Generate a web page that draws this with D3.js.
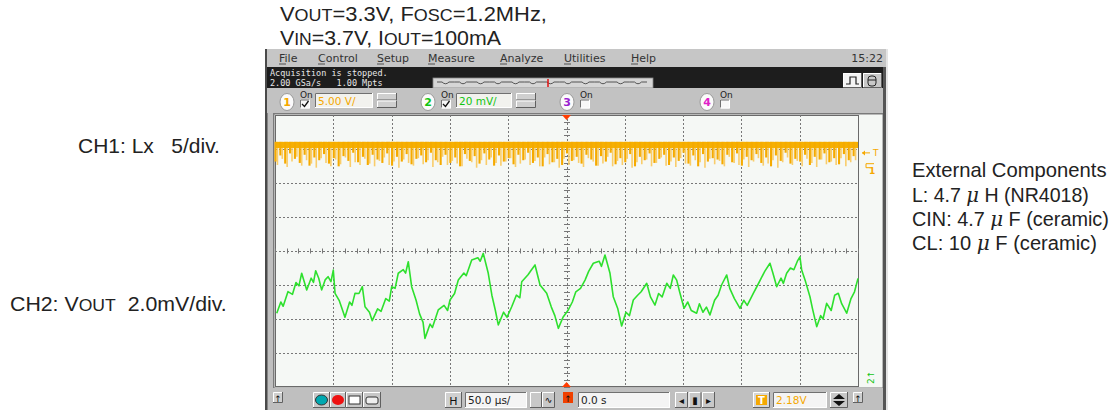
<!DOCTYPE html>
<html>
<head>
<meta charset="utf-8">
<script src="https://cdn.jsdelivr.net/npm/d3@7"></script>
<style>
  body { margin: 0; background: #fff; }
  svg text { font-family: "Liberation Sans", Arial, sans-serif; }
  .ui { font-family: "DejaVu Sans", sans-serif; }
  .mono { font-family: "DejaVu Sans Mono", monospace; }
</style>
</head>
<body>
<svg id="chart" width="1117" height="410"></svg>
<script>
// ---- data read off the scope shot ----
// time axis: 50us/div, 10 div, trigger in the middle
const timeTicks = [-250, -200, -150, -100, -50, 0, 50, 100, 150, 200, 250];
const divTicks = [-4, -3, -2, -1, 0, 1, 2, 3, 4];

// CH2 Vout ripple (2.0mV/div, 0 = screen centre)
const ch2Time = [-248.5, -245, -243, -238.9, -235, -232, -229.5, -227.1, -222.8, -219,
  -217, -215.1, -212.5, -210, -207, -204.5, -202, -200, -198.5, -195,
  -193, -190, -186, -184, -181.4, -178, -175.1, -172.8, -169, -166.6,
  -162, -159, -155, -152, -149.9, -147, -144.3, -140, -138, -135.7,
  -132.8, -129, -126, -123, -121.4, -117, -115, -110, -105, -102,
  -99.9, -96, -92.8, -88, -86, -81.3, -76, -74, -71.4, -67.1,
  -64, -61, -58.5, -54, -51, -47, -43, -40, -38.4, -33,
  -30, -27, -22.7, -17, -13, -10, -7, -3, 1.5, 5,
  8, 12, 15.9, 19, 23, 28, 30, 33, 37.3, 40.1,
  44, 47.3, 51, 54, 57.3, 61, 64, 68.8, 72, 75.9,
  79, 82, 86, 89, 91.6, 94.5, 97, 100.8, 104, 107,
  111.6, 114, 117, 120, 123, 127, 130, 133, 137.4, 140,
  144, 148.8, 152, 155, 160.2, 164, 167, 170, 174.5, 177,
  180.3, 184, 186, 188.8, 192, 195, 198, 200.2, 201.7, 205,
  208.8, 211, 214.6, 218, 220, 223.1, 227, 230, 233.1, 236,
  240.3, 244, 247, 250];
const ch2Mv = [-3.66, -3.0, -3.25, -2.39, -2.55, -1.85, -2.05, -1.31, -2.29, -1.6,
  -1.85, -1.16, -1.6, -2.29, -1.7, -1.51, -1.8, -1.12, -2.49, -2.9,
  -3.3, -3.90, -3.0, -3.2, -2.49, -2.5, -2.10, -3.28, -3.6, -4.10,
  -3.4, -3.55, -2.8, -2.95, -2.10, -2.2, -1.31, -1.1, -1.3, -0.63,
  -2.10, -2.9, -3.7, -4.2, -5.14, -4.3, -4.5, -3.47, -3.2, -3.5,
  -2.88, -2.5, -1.71, -1.3, -1.45, -0.53, -0.4, -0.6, -0.14, -1.31,
  -2.6, -3.5, -4.35, -3.6, -3.9, -3.28, -2.6, -2.75, -1.81, -1.4,
  -1.1, -0.82, -2.00, -2.49, -3.3, -3.8, -4.55, -3.9, -3.47, -3.0,
  -2.4, -2.2, -1.71, -1.2, -0.72, -0.6, -0.9, -0.24, -1.31, -2.69,
  -3.4, -4.41, -3.6, -3.8, -2.88, -2.6, -2.4, -1.90, -2.7, -3.18,
  -2.5, -2.7, -1.9, -2.2, -1.41, -1.71, -2.4, -3.37, -3.0, -3.5,
  -3.66, -3.1, -3.6, -3.3, -3.76, -2.9, -2.6, -2.0, -1.41, -2.2,
  -2.8, -3.37, -2.9, -3.2, -2.49, -2.0, -1.6, -1.2, -0.72, -1.3,
  -2.10, -1.6, -1.9, -1.31, -1.0, -1.1, -0.6, -0.34, -1.12, -1.8,
  -2.69, -3.4, -4.45, -3.8, -4.0, -3.08, -3.5, -2.6, -2.49, -3.1,
  -3.66, -2.8, -2.4, -1.61];

// CH1 Lx (5V/div): high level and the bottoms of the (aliased) switching spikes, in V
const ch1High = 3.8;
const ch1Band = 2.9;
const ch1Dark = [0.9, 1.8, 0.6, 2.1, 1.3, 0.7, 1.9, 0.3, 1.5, 1.1,
  2.0, 0.6, 1.4, 0.2, 1.7, 1.0, 2.2, 0.8, 1.6, 0.4,
  1.9, 1.2, 0.7, 2.1, 0.3, 1.6, 0.9, 2.0, 0.5, 1.3,
  1.8, 0.8, 2.2, 1.1, 0.4, 1.9, 0.7, 1.5, 0.2, 2.0,
  1.0, 1.7, 0.6, 2.1, 1.2, 0.3, 1.8, 0.9, 1.4, 0.5,
  1.9, 1.1, 2.2, 0.7, 1.5, 0.2, 2.0, 0.8, 1.3, 0.4,
  2.1, 1.0, 1.6, 0.6, 1.9, 1.2, 0.3, 1.7, 0.9, 2.2,
  0.5, 1.4, 0.8, 2.0, 0.2, 1.6, 1.1, 2.1, 0.7, 1.3,
  1.9, 0.4, 1.5, 1.0, 2.2, 0.6, 1.8, 0.2, 2.0, 0.9,
  1.4, 1.2, 0.5, 1.9, 0.8, 2.1, 0.3, 1.6, 1.1, 2.0,
  0.7, 1.5, 0.2, 1.8, 1.0, 2.2, 0.6, 1.3, 0.9, 1.9,
  0.4, 1.6, 1.2, 2.1, 0.8, 1.4, 0.5, 2.0, 1.1, 1.7];
const ch1Light = [0.4, 1.3, 0.1, 0.9, 1.6, 0.3, 1.1, 0.6, 0.0, 1.4,
  0.7, 0.2, 1.2, 0.5, 1.5, 0.1, 0.8, 0.4, 1.3, 0.6,
  0.2, 1.0, 1.5, 0.4, 0.9, 0.0, 1.2, 0.7, 0.3, 1.4,
  0.5, 1.1, 0.1, 0.8, 1.6, 0.4, 1.0, 0.6, 0.2, 1.3,
  0.8, 0.0, 1.1, 0.4, 1.5, 0.7, 0.3, 0.9, 1.4, 0.1,
  0.6, 1.2, 0.4, 1.0, 0.2, 1.5, 0.5, 0.8, 0.0, 1.3,
  0.4, 1.1, 0.7, 0.1, 1.4, 0.9, 0.3, 0.6, 1.6, 0.2,
  1.0, 0.4, 1.3, 0.0, 0.8, 0.5, 1.2, 0.2, 0.7, 1.5,
  0.3, 0.9, 0.1, 1.4, 0.6, 0.3, 1.1, 0.8, 0.0, 1.3,
  0.5, 1.0, 0.2, 1.6, 0.7, 0.4, 1.2, 0.1, 0.9, 1.4,
  0.3, 0.6, 1.1, 0.0, 0.8, 1.5, 0.4, 1.0, 0.2, 1.3,
  0.7, 0.1, 1.2, 0.5, 0.9, 0.4, 1.4, 0.2, 0.8, 1.1];

const menuItems = ["File", "Control", "Setup", "Measure", "Analyze", "Utilities", "Help"];
const menuX = [279, 318, 377, 428, 500, 564, 631];
const channels = ["1", "2", "3", "4"];
const chColors = ["#f5a800", "#12c412", "#9a1fd0", "#e020c8"];
const chScaleText = ["5.00 V/", "20 mV/", null, null];

// ---- setup ----
const svg = d3.select("#chart");

const x = d3.scaleLinear().domain([-250, 250]).range([275, 858]);
const yDiv = d3.scaleLinear().domain([-4, 4]).range([387, 115]);
// CH2: 2.0mV/div, centred
const y2 = d3.scaleLinear().domain([-8, 8]).range([387, 115]);
// CH1: 5V/div, ground marker 2.45 div above centre
const y1 = d3.scaleLinear().domain([-5 * 6.45, 5 * 1.55]).range([387, 115]);

function bevel(g, bx, by, w, h, fill, sunken) {
  g.append("rect").attr("x", bx).attr("y", by).attr("width", w).attr("height", h).attr("fill", fill);
  const lt = sunken ? "#707070" : "#ffffff", rb = sunken ? "#ffffff" : "#606060";
  g.append("path").attr("d", `M${bx + 0.5},${by + h}V${by + 0.5}H${bx + w}`).attr("stroke", lt).attr("fill", "none");
  g.append("path").attr("d", `M${bx + w - 0.5},${by}V${by + h - 0.5}H${bx}`).attr("stroke", rb).attr("fill", "none");
}

// ---- scope window frame ----
const win = svg.append("g");
win.append("rect").attr("x", 265).attr("y", 49).attr("width", 623).attr("height", 361).attr("fill", "#bfbfbf");
win.append("rect").attr("x", 265).attr("y", 49).attr("width", 2.5).attr("height", 361).attr("fill", "#4a4a4a");
win.append("rect").attr("x", 883).attr("y", 67).attr("width", 3).attr("height", 343).attr("fill", "#555");
win.append("rect").attr("x", 886).attr("y", 49).attr("width", 2).attr("height", 361).attr("fill", "#e4e4e4");

// menu bar
win.append("rect").attr("x", 267).attr("y", 49).attr("width", 619).attr("height", 18).attr("fill", "#c6c6c6");
win.selectAll(".menu").data(menuItems).enter().append("text")
  .attr("class", "ui")
  .attr("x", (d, i) => menuX[i]).attr("y", 62)
  .attr("font-size", 11).attr("fill", "#333")
  .text(d => d);
win.selectAll(".menuU").data(menuItems).enter().append("line")
  .attr("x1", (d, i) => menuX[i]).attr("x2", (d, i) => menuX[i] + 7)
  .attr("y1", 64).attr("y2", 64).attr("stroke", "#333").attr("stroke-width", 0.8);
win.append("text").attr("class", "ui").attr("x", 883).attr("y", 62).attr("text-anchor", "end")
  .attr("font-size", 11).attr("fill", "#333").text("15:22");

// status bar
win.append("rect").attr("x", 267).attr("y", 67).attr("width", 616).attr("height", 21).attr("fill", "#1d1d1d");
win.append("text").attr("class", "mono").attr("x", 270).attr("y", 76).attr("font-size", 8.5)
  .attr("fill", "#e8e8e8").text("Acquisition is stopped.");
win.append("text").attr("class", "mono").attr("x", 270).attr("y", 86).attr("font-size", 8.5)
  .attr("fill", "#e8e8e8").style("white-space", "pre").text("2.00 GSa/s   1.00 Mpts");
win.append("rect").attr("x", 433).attr("y", 78).attr("width", 220).attr("height", 10).attr("fill", "#d6d6d6")
  .attr("stroke", "#888").attr("stroke-width", 0.8);
const wav = d3.path();
d3.range(12).forEach(i => {
  const sx = 437 + i * 17.5;
  wav.moveTo(sx, 82); wav.lineTo(sx + 5, 82);
  wav.quadraticCurveTo(sx + 8.5, 85.5, sx + 12, 82); wav.lineTo(sx + 17.5, 82);
});
win.append("path").attr("d", wav.toString()).attr("fill", "none").attr("stroke", "#333").attr("stroke-width", 0.8);
win.append("line").attr("x1", 548).attr("x2", 548).attr("y1", 79).attr("y2", 87).attr("stroke", "#e01010").attr("stroke-width", 1.5);
bevel(win, 843, 73, 19, 15, "#f4f4f4", false);
bevel(win, 863, 73, 19, 15, "#c8c8c8", false);
win.append("path").attr("d", "M846,84H850V77H856V84H859").attr("fill", "none").attr("stroke", "#222").attr("stroke-width", 1.2);
win.append("rect").attr("x", 868).attr("y", 76).attr("width", 8).attr("height", 10).attr("rx", 3)
  .attr("fill", "none").attr("stroke", "#222");
win.append("line").attr("x1", 868).attr("x2", 876).attr("y1", 80).attr("y2", 80).attr("stroke", "#222");

// channel row
win.append("rect").attr("x", 267).attr("y", 88).attr("width", 616).attr("height", 25).attr("fill", "#c2c2c2");
const chX = [287, 428, 567, 707];
channels.forEach((c, i) => {
  const cx = chX[i];
  const g = win.append("g");
  g.append("ellipse").attr("cx", cx).attr("cy", 102).attr("rx", 7).attr("ry", 8.5)
    .attr("fill", "#fbfbfb").attr("stroke", "#9a9a9a");
  g.append("text").attr("class", "ui").attr("x", cx).attr("y", 106).attr("text-anchor", "middle")
    .attr("font-size", 11).attr("font-weight", "bold").attr("fill", chColors[i]).text(c);
  g.append("text").attr("class", "ui").attr("x", cx + 13).attr("y", 98).attr("font-size", 9).attr("fill", "#222").text("On");
  bevel(g, cx + 13, 99.5, 10, 9, "#f8f8f8", true);
  if (chScaleText[i]) {
    g.append("path").attr("d", `M${cx + 15},${104}L${cx + 17.5},${106.5}L${cx + 21.5},${101}`)
      .attr("fill", "none").attr("stroke", "#111").attr("stroke-width", 1.3);
    const bw = i === 0 ? 58 : 56;
    bevel(g, cx + 28, 93, bw, 15, "#f2f2ee", true);
    g.append("text").attr("class", "ui").attr("x", cx + 31).attr("y", 104.5).attr("font-size", 10.5)
      .attr("fill", chColors[i]).text(chScaleText[i]);
    bevel(g, cx + 28 + bw + 4, 93, 20, 7.5, "#cfcfcf", false);
    bevel(g, cx + 28 + bw + 4, 100.5, 20, 7.5, "#cfcfcf", false);
  }
});

// ---- screen ----
const scr = svg.append("g");
scr.append("rect").attr("x", 273).attr("y", 113).attr("width", 610).attr("height", 275).attr("fill", "#7a7a7a");
scr.append("rect").attr("x", 274.5).attr("y", 114.5).attr("width", 608).attr("height", 273).attr("fill", "#f5f8f5");
scr.append("rect").attr("x", 275.5).attr("y", 115.5).attr("width", 583).attr("height", 271)
  .attr("fill", "none").attr("stroke", "#6a6a6a");

// graticule
scr.selectAll(".vgrid").data(timeTicks.slice(1, -1)).enter().append("line")
  .attr("x1", d => Math.round(x(d)) + 0.5).attr("x2", d => Math.round(x(d)) + 0.5)
  .attr("y1", yDiv(4)).attr("y2", yDiv(-4))
  .attr("stroke", "#777").attr("stroke-dasharray", "2,2");
scr.selectAll(".hgrid").data(divTicks.slice(1, -1)).enter().append("line")
  .attr("x1", x(-250)).attr("x2", x(250))
  .attr("y1", d => Math.round(yDiv(d)) + 0.5).attr("y2", d => Math.round(yDiv(d)) + 0.5)
  .attr("stroke", "#777").attr("stroke-dasharray", "2,2");
// minor ticks on centre lines
scr.selectAll(".tx").data(d3.range(-250, 251, 10)).enter().append("line")
  .attr("x1", d => Math.round(x(d)) + 0.5).attr("x2", d => Math.round(x(d)) + 0.5)
  .attr("y1", yDiv(0) - 2.5).attr("y2", yDiv(0) + 2.5).attr("stroke", "#777");
scr.selectAll(".ty").data(d3.range(-4, 4.01, 0.2)).enter().append("line")
  .attr("x1", x(0) - 2.5).attr("x2", x(0) + 3.5)
  .attr("y1", d => Math.round(yDiv(d)) + 0.5).attr("y2", d => Math.round(yDiv(d)) + 0.5).attr("stroke", "#777");

// trigger position markers
scr.append("path").attr("d", `M${x(0) - 4.5},115L${x(0) + 4.5},115L${x(0)},120Z`).attr("fill", "#ff3c00");
scr.append("path").attr("d", `M${x(0) - 4.5},387L${x(0) + 4.5},387L${x(0)},382Z`).attr("fill", "#ff3c00");

// CH1 trace
const step = 500 / ch1Dark.length;
scr.selectAll(".c1l").data(ch1Light).enter().append("line")
  .attr("x1", (d, i) => x(-250 + (i + 0.5) * step)).attr("x2", (d, i) => x(-250 + (i + 0.5) * step))
  .attr("y1", y1(ch1High)).attr("y2", d => y1(d))
  .attr("stroke", "#f9cd6a").attr("stroke-width", 1.6);
scr.append("rect").attr("x", x(-250)).attr("y", y1(ch1High)).attr("width", x(250) - x(-250))
  .attr("height", y1(ch1Band) - y1(ch1High)).attr("fill", "#f6b000");
scr.selectAll(".c1d").data(ch1Dark).enter().append("line")
  .attr("x1", (d, i) => x(-250 + (i + 0.1) * step)).attr("x2", (d, i) => x(-250 + (i + 0.1) * step))
  .attr("y1", y1(ch1High)).attr("y2", d => y1(d))
  .attr("stroke", "#f5aa00").attr("stroke-width", 2.1);

// CH2 trace
const line2 = d3.line().x(d => x(d[0])).y(d => y2(d[1]));
scr.append("path").datum(d3.zip(ch2Time, ch2Mv)).attr("d", line2)
  .attr("fill", "none").attr("stroke", "#2ee02e").attr("stroke-width", 1.6).attr("stroke-linejoin", "round");

// right-side level markers
scr.append("line").attr("x1", 862).attr("x2", 870).attr("y1", y1(2.18)).attr("y2", y1(2.18)).attr("stroke", "#f5a800");
scr.append("path").attr("d", `M862,${y1(2.18)}l3,-2.5v5z`).attr("fill", "#f5a800");
scr.append("text").attr("class", "ui").attr("x", 873).attr("y", y1(2.18) + 3.5).attr("font-size", 9)
  .attr("fill", "#f5a800").text("T");
scr.append("path").attr("d", `M874,${y1(0) - 4}h-8v4h4`).attr("fill", "none").attr("stroke", "#f5a800");
scr.append("text").attr("class", "ui").attr("x", 869).attr("y", y1(0) + 6).attr("font-size", 9)
  .attr("font-weight", "bold").attr("fill", "#f5a800").text("1");
scr.append("text").attr("class", "ui").attr("transform", "translate(874,384) rotate(-90)")
  .attr("font-size", 9).attr("fill", "#12c412").text("2↑");

// ---- bottom toolbar ----
const tb = svg.append("g");
bevel(tb, 273, 392, 10, 11, "#cfcfcf", false);
tb.append("text").attr("class", "ui").attr("x", 278).attr("y", 401.5).attr("text-anchor", "middle")
  .attr("font-size", 9).attr("fill", "#111").text("↑");
bevel(tb, 313, 392, 17, 16, "#c8c8c8", false);
tb.append("ellipse").attr("cx", 321.5).attr("cy", 400).attr("rx", 6).attr("ry", 5).attr("fill", "#00a8b0").attr("stroke", "#333");
bevel(tb, 330, 392, 16, 16, "#c8c8c8", false);
tb.append("ellipse").attr("cx", 338).attr("cy", 400).attr("rx", 6).attr("ry", 5).attr("fill", "#ee1010");
bevel(tb, 346, 392, 17, 16, "#c8c8c8", false);
tb.append("rect").attr("x", 349).attr("y", 396).attr("width", 11).attr("height", 8).attr("fill", "#fff").attr("stroke", "#333");
bevel(tb, 363, 392, 18, 16, "#c8c8c8", false);
tb.append("rect").attr("x", 366).attr("y", 397).attr("width", 12).attr("height", 7).attr("rx", 2).attr("fill", "#eee").attr("stroke", "#333");
bevel(tb, 445, 392, 17, 16, "#d0d0d0", false);
tb.append("text").attr("class", "ui").attr("x", 453.5).attr("y", 404.5).attr("text-anchor", "middle")
  .attr("font-size", 11).attr("fill", "#111").text("H");
bevel(tb, 465, 392, 62, 16, "#f4f4f4", true);
tb.append("text").attr("class", "ui").attr("x", 468).attr("y", 404).attr("font-size", 10.5).attr("fill", "#222").text("50.0 µs/");
bevel(tb, 530, 392, 12, 16, "#c8c8c8", false);
bevel(tb, 542, 392, 13, 16, "#c8c8c8", false);
tb.append("text").attr("class", "ui").attr("x", 548.5).attr("y", 403).attr("text-anchor", "middle").attr("font-size", 9).text("∿");
tb.append("rect").attr("x", 563).attr("y", 392).attr("width", 10).attr("height", 11).attr("fill", "#f04000");
tb.append("text").attr("class", "ui").attr("x", 568).attr("y", 401.5).attr("text-anchor", "middle")
  .attr("font-size", 9).attr("fill", "#111").text("↑");
bevel(tb, 578, 392, 92, 16, "#f4f4f4", true);
tb.append("text").attr("class", "ui").attr("x", 581).attr("y", 404).attr("font-size", 10.5).attr("fill", "#222").text("0.0 s");
["◂", "▮", "▸"].forEach((s, i) => {
  bevel(tb, 675 + i * 13.5, 392, 13, 16, "#c8c8c8", false);
  tb.append("text").attr("class", "ui").attr("x", 681.5 + i * 13.5).attr("y", 404).attr("text-anchor", "middle")
    .attr("font-size", 10).attr("fill", "#111").text(s);
});
bevel(tb, 753, 392, 17, 16, "#d6d6d6", false);
tb.append("rect").attr("x", 756).attr("y", 395).attr("width", 11).attr("height", 10).attr("fill", "#f5a800");
tb.append("text").attr("class", "ui").attr("x", 761.5).attr("y", 404).attr("text-anchor", "middle")
  .attr("font-size", 10).attr("font-weight", "bold").attr("fill", "#fff").text("T");
bevel(tb, 773, 392, 54, 16, "#f4f4f4", true);
tb.append("text").attr("class", "ui").attr("x", 776).attr("y", 404).attr("font-size", 10.5).attr("fill", "#f5a800").text("2.18V");
bevel(tb, 830, 392, 18, 16, "#c8c8c8", false);
tb.append("path").attr("d", "M833,399l6,-5l6,5zM833,401l6,5l6,-5z").attr("fill", "#111");
bevel(tb, 853, 392, 10, 11, "#cfcfcf", false);
tb.append("text").attr("class", "ui").attr("x", 858).attr("y", 401.5).attr("text-anchor", "middle")
  .attr("font-size", 9).attr("fill", "#111").text("↑");

// ---- annotation text around the screenshot ----
// stretch a text horizontally so it spans the same width as in the picture
function fitWidth(t, w) {
  const x0 = +t.attr("x");
  const cur = t.node().getBBox().width;
  t.attr("transform", `translate(${x0},0) scale(${w / cur},1) translate(${-x0},0)`);
}
function smallCaps(t, parts, small) {
  parts.forEach(p => {
    t.append("tspan").attr("font-size", p[1] ? small : null).text(p[0]);
  });
  return t;
}
const notes = svg.append("g").attr("fill", "#222");
const t1 = smallCaps(notes.append("text").attr("x", 280).attr("y", 21).attr("font-size", 19.5),
  [["V", 0], ["OUT", 1], ["=3.3V, F", 0], ["OSC", 1], ["=1.2MHz,", 0]], 16);
fitWidth(t1, 267);
const t2 = smallCaps(notes.append("text").attr("x", 280).attr("y", 45).attr("font-size", 19.5),
  [["V", 0], ["IN", 1], ["=3.7V, I", 0], ["OUT", 1], ["=100mA", 0]], 16);
fitWidth(t2, 221);
const c1 = notes.append("text").attr("x", 78).attr("y", 153).attr("font-size", 20)
  .style("white-space", "pre").text("CH1: Lx   5/div.");
fitWidth(c1, 142);
const c2 = smallCaps(notes.append("text").attr("x", 10).attr("y", 311).attr("font-size", 20).style("white-space", "pre"),
  [["CH2: V", 0], ["OUT", 1], ["  2.0mV/div.", 0]], 16.5);
fitWidth(c2, 217);

const extLines = [
  [["External Components"]],
  [["L: 4.7 "], ["μ", 1], [" H (NR4018)"]],
  [["CIN: 4.7 "], ["μ", 1], [" F (ceramic)"]],
  [["CL: 10 "], ["μ", 1], [" F (ceramic)"]]
];
const extY = [177, 202, 226, 250];
const extW = [195, 177, 197, 185];
extLines.forEach((parts, i) => {
  const t = notes.append("text").attr("x", 912).attr("y", extY[i]).attr("font-size", 19.5);
  parts.forEach(p => {
    t.append("tspan").attr("font-style", p[1] ? "italic" : null).attr("font-family", p[1] ? "DejaVu Serif" : null).text(p[0]);
  });
  fitWidth(t, extW[i]);
});
</script>
</body>
</html>
